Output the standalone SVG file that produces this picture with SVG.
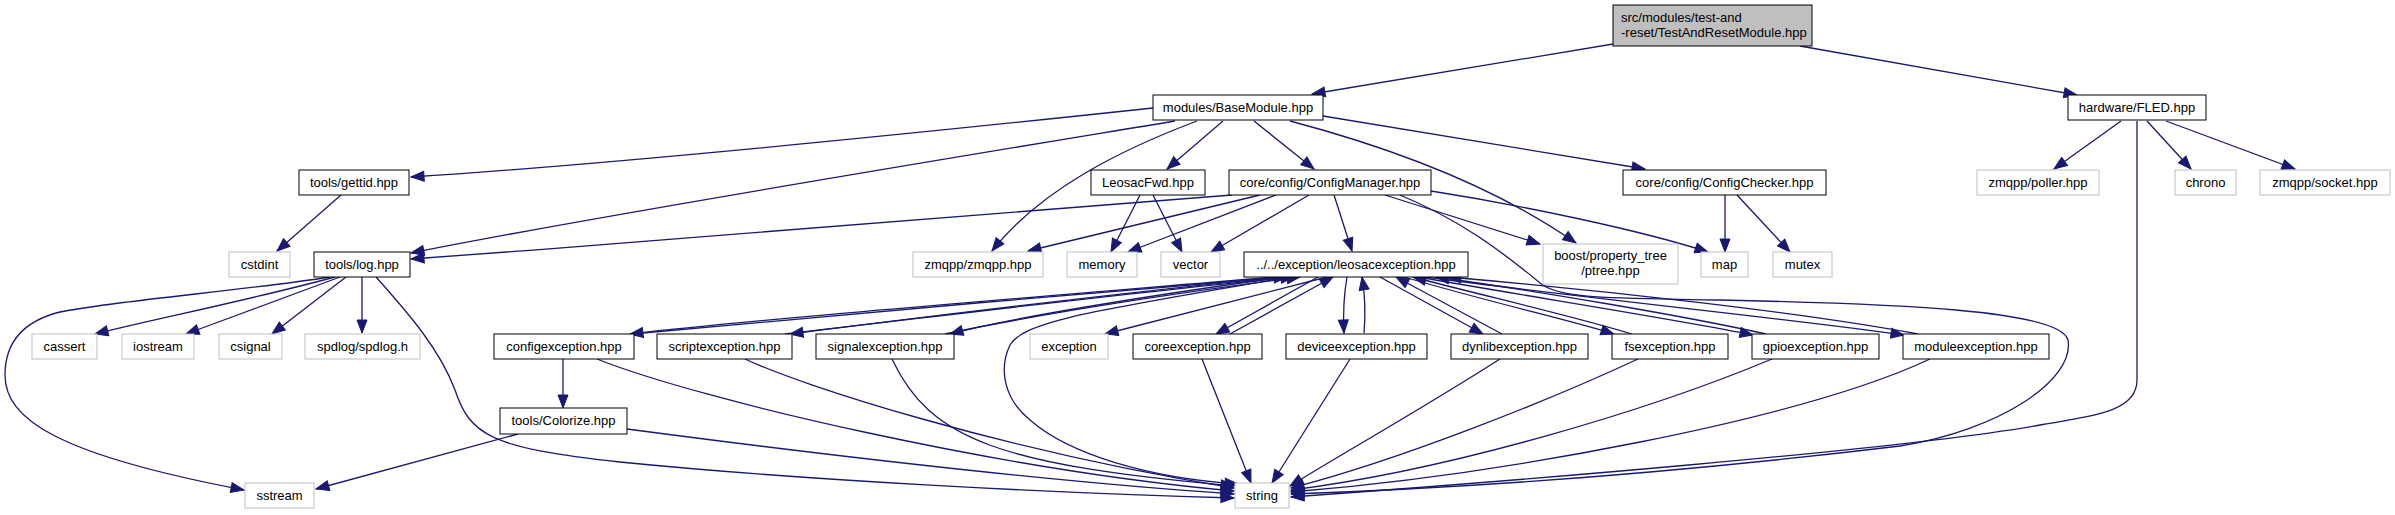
<svg xmlns="http://www.w3.org/2000/svg" width="2395" height="515" viewBox="0 0 2395 515">
<style>
rect{fill:#fff;stroke:#000;stroke-width:1}
.g rect{stroke:#bfbfbf}
#root rect{fill:#bfbfbf;stroke:#000}
text{font-family:"Liberation Sans",Arial,sans-serif;font-size:13px;fill:#000;text-anchor:middle}
#root text{text-anchor:start}
#edges path{fill:none;stroke:#191970;stroke-width:1.3;marker-end:url(#a)}
</style>
<defs>
<marker id="a" markerUnits="userSpaceOnUse" markerWidth="14" markerHeight="12" refX="13" refY="5" orient="auto" overflow="visible">
<path d="M0,0 L13,5 L0,10 z" fill="#191970" stroke="#191970" stroke-width="1"/>
</marker>
</defs>
<rect x="0" y="0" width="2395" height="515" style="fill:#fff;stroke:none"/>
<g id="edges">
<path d="M1613,44 L1312,94"/>
<path d="M1800,46 L2077,95"/>
<path d="M1153,108 C900,135 600,165 411,177"/>
<path d="M1175,121 C1000,150 600,215 411,253"/>
<path d="M1197,121 C1120,150 1040,190 992,251"/>
<path d="M1223,121 L1167,169"/>
<path d="M1254,121 L1314,169"/>
<path d="M1290,121 C1400,150 1500,190 1576,243"/>
<path d="M1323,116 L1645,169"/>
<path d="M2121,121 L2054,169"/>
<path d="M2147,121 L2191,169"/>
<path d="M2166,121 L2295,169"/>
<path d="M2137,121 L2137,380 C2137,410 2100,415 2040,425 C1900,450 1500,482 1291,497"/>
<path d="M1232,195 C1000,215 700,238 411,259"/>
<path d="M1260,195 L1028,251"/>
<path d="M1276,195 L1128,252"/>
<path d="M1309,195 L1211,252"/>
<path d="M1334,195 L1352,251"/>
<path d="M1385,195 L1540,244"/>
<path d="M1431,191 C1520,205 1640,230 1708,252"/>
<path d="M1400,195 C1460,220 1500,250 1540,283 C1560,300 1620,298 1720,300 C1900,304 2060,310 2068,340 C2075,380 2000,430 1900,446 C1700,470 1500,487 1291,494"/>
<path d="M1140,195 L1111,252"/>
<path d="M1153,195 L1182,252"/>
<path d="M1725,195 L1725,252"/>
<path d="M1737,195 L1790,252"/>
<path d="M341,195 L277,251"/>
<path d="M335,277 C250,300 150,320 95,334"/>
<path d="M340,277 L186,334"/>
<path d="M346,277 L272,334"/>
<path d="M362,277 L362,333"/>
<path d="M330,277 C250,290 120,300 60,312 C20,322 5,345 5,375 C5,420 60,455 244,490"/>
<path d="M376,277 C410,315 440,350 455,390 C470,435 490,448 620,462 C800,480 1050,493 1234,498"/>
<path d="M563,359 L563,408"/>
<path d="M518,434 L316,489"/>
<path d="M627,429 C900,465 1100,485 1234,494"/>
<path d="M597,359 C700,400 1000,470 1234,491"/>
<path d="M745,359 C800,385 1000,450 1234,488"/>
<path d="M892,359 C930,440 1000,465 1234,486"/>
<path d="M1290,277 C1100,310 1025,320 1010,345 C998,370 1005,400 1030,420 C1070,455 1150,478 1238,484"/>
<path d="M1202,359 L1251,483"/>
<path d="M1350,359 L1272,483"/>
<path d="M1500,359 C1420,410 1340,455 1290,486"/>
<path d="M1638,359 C1550,400 1400,460 1291,488"/>
<path d="M1772,359 C1650,410 1450,470 1291,490"/>
<path d="M1930,359 C1800,420 1500,475 1291,492"/>
<path d="M1275,277 C1000,300 750,320 630,334"/>
<path d="M632,334 C800,318 1100,292 1287,277"/>
<path d="M1280,277 C1100,295 900,320 790,334"/>
<path d="M785,334 C950,315 1150,290 1294,277"/>
<path d="M1285,277 C1150,295 1000,320 950,334"/>
<path d="M945,334 C1050,312 1200,290 1300,277"/>
<path d="M1327,277 L1105,334"/>
<path d="M1318,277 L1216,334"/>
<path d="M1230,334 L1333,277"/>
<path d="M1347,277 C1343,300 1343,315 1344,333"/>
<path d="M1364,333 C1366,310 1365,295 1362,277"/>
<path d="M1380,277 L1483,334"/>
<path d="M1502,334 L1396,277"/>
<path d="M1404,277 C1500,305 1570,320 1614,334"/>
<path d="M1632,334 C1570,315 1480,295 1413,277"/>
<path d="M1418,277 C1550,300 1680,320 1753,335"/>
<path d="M1766,334 C1680,315 1530,290 1436,277"/>
<path d="M1425,277 C1600,300 1800,320 1904,335"/>
<path d="M1918,334 C1800,312 1600,290 1448,277"/>
</g>
<g id="root"><rect x="1613" y="5" width="199" height="41"/><text x="1621" y="22">src/modules/test-and</text><text x="1621" y="37">-reset/TestAndResetModule.hpp</text></g>
<g id="basemodule"><rect x="1153" y="95" width="170" height="25"/><text x="1238" y="112">modules/BaseModule.hpp</text></g>
<g id="fled"><rect x="2068" y="95" width="138" height="25"/><text x="2137" y="112">hardware/FLED.hpp</text></g>
<g id="gettid"><rect x="299" y="170" width="110" height="25"/><text x="354" y="187">tools/gettid.hpp</text></g>
<g id="leosacfwd"><rect x="1091" y="170" width="114" height="25"/><text x="1148" y="187">LeosacFwd.hpp</text></g>
<g id="configmanager"><rect x="1229" y="170" width="202" height="25"/><text x="1330" y="187">core/config/ConfigManager.hpp</text></g>
<g id="configchecker"><rect x="1623" y="170" width="203" height="25"/><text x="1724.5" y="187">core/config/ConfigChecker.hpp</text></g>
<g id="poller" class="g"><rect x="1977" y="170" width="122" height="25"/><text x="2038" y="187">zmqpp/poller.hpp</text></g>
<g id="chrono" class="g"><rect x="2175" y="170" width="61" height="25"/><text x="2205.5" y="187">chrono</text></g>
<g id="socket" class="g"><rect x="2260" y="170" width="130" height="25"/><text x="2325" y="187">zmqpp/socket.hpp</text></g>
<g id="cstdint" class="g"><rect x="229" y="252" width="61" height="25"/><text x="259.5" y="269">cstdint</text></g>
<g id="log"><rect x="314" y="252" width="96" height="25"/><text x="362" y="269">tools/log.hpp</text></g>
<g id="zmqpp" class="g"><rect x="913" y="252" width="130" height="25"/><text x="978" y="269">zmqpp/zmqpp.hpp</text></g>
<g id="memory" class="g"><rect x="1067" y="252" width="70" height="25"/><text x="1102" y="269">memory</text></g>
<g id="vector" class="g"><rect x="1161" y="252" width="59" height="25"/><text x="1190.5" y="269">vector</text></g>
<g id="leosacexception"><rect x="1244" y="252" width="224" height="25"/><text x="1356" y="269">../../exception/leosacexception.hpp</text></g>
<g id="boost" class="g"><rect x="1543" y="244" width="135" height="40"/><text x="1610.5" y="260">boost/property_tree</text><text x="1610.5" y="275">/ptree.hpp</text></g>
<g id="map" class="g"><rect x="1701" y="252" width="47" height="25"/><text x="1724.5" y="269">map</text></g>
<g id="mutex" class="g"><rect x="1773" y="252" width="59" height="25"/><text x="1802.5" y="269">mutex</text></g>
<g id="cassert" class="g"><rect x="32" y="334" width="65" height="25"/><text x="64.5" y="351">cassert</text></g>
<g id="iostream" class="g"><rect x="122" y="334" width="72" height="25"/><text x="158" y="351">iostream</text></g>
<g id="csignal" class="g"><rect x="219" y="334" width="63" height="25"/><text x="250.5" y="351">csignal</text></g>
<g id="spdlog" class="g"><rect x="305" y="334" width="115" height="25"/><text x="362.5" y="351">spdlog/spdlog.h</text></g>
<g id="configexception"><rect x="494" y="334" width="140" height="25"/><text x="564" y="351">configexception.hpp</text></g>
<g id="scriptexception"><rect x="657" y="334" width="135" height="25"/><text x="724.5" y="351">scriptexception.hpp</text></g>
<g id="signalexception"><rect x="816" y="334" width="138" height="25"/><text x="885" y="351">signalexception.hpp</text></g>
<g id="exception" class="g"><rect x="1030" y="334" width="78" height="25"/><text x="1069" y="351">exception</text></g>
<g id="coreexception"><rect x="1133" y="334" width="129" height="25"/><text x="1197.5" y="351">coreexception.hpp</text></g>
<g id="deviceexception"><rect x="1286" y="334" width="141" height="25"/><text x="1356.5" y="351">deviceexception.hpp</text></g>
<g id="dynlibexception"><rect x="1451" y="334" width="137" height="25"/><text x="1519.5" y="351">dynlibexception.hpp</text></g>
<g id="fsexception"><rect x="1612" y="334" width="116" height="25"/><text x="1670" y="351">fsexception.hpp</text></g>
<g id="gpioexception"><rect x="1752" y="334" width="127" height="25"/><text x="1815.5" y="351">gpioexception.hpp</text></g>
<g id="moduleexception"><rect x="1903" y="334" width="146" height="25"/><text x="1976" y="351">moduleexception.hpp</text></g>
<g id="colorize"><rect x="500" y="408" width="127" height="26"/><text x="563.5" y="425">tools/Colorize.hpp</text></g>
<g id="sstream" class="g"><rect x="245" y="483" width="69" height="25"/><text x="279.5" y="500">sstream</text></g>
<g id="string" class="g"><rect x="1235" y="483" width="54" height="25"/><text x="1262" y="500">string</text></g>
</svg>
